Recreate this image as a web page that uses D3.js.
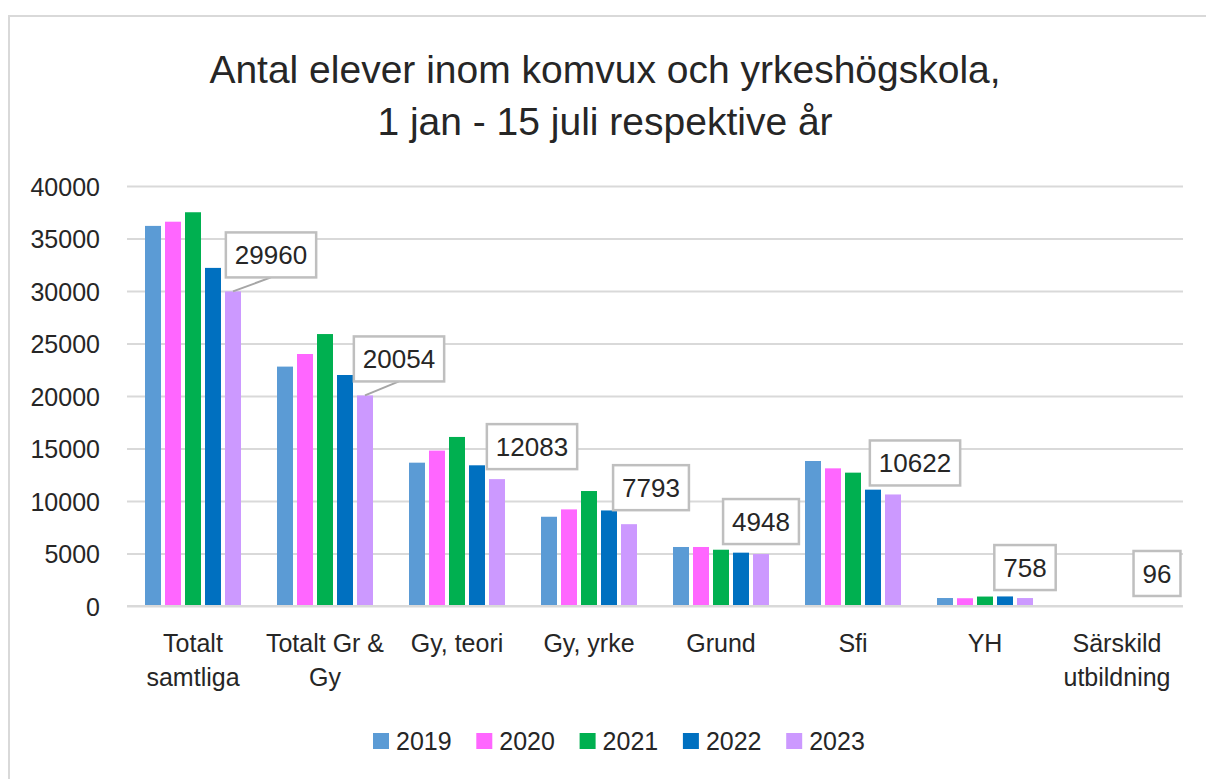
<!DOCTYPE html>
<html>
<head>
<meta charset="utf-8">
<script src="https://cdn.jsdelivr.net/npm/d3@7"></script>
<style>
  html, body { margin: 0; padding: 0; background: #ffffff; }
  svg { display: block; }
  text { font-family: "Liberation Sans", Arial, sans-serif; fill: #262626; }
</style>
</head>
<body>
<svg id="chart" width="1206" height="779"></svg>
<script>
// Elever per utbildningsform, 1 jan - 15 juli
const categories = [
  ["Totalt", "samtliga"],
  ["Totalt Gr &", "Gy"],
  ["Gy, teori"],
  ["Gy, yrke"],
  ["Grund"],
  ["Sfi"],
  ["YH"],
  ["Särskild", "utbildning"]
];
const years = ["2019", "2020", "2021", "2022", "2023"];
const values2019 = [36200, 22800, 13650, 8500, 5620, 13810, 760, 80];
const values2020 = [36600, 24000, 14800, 9200, 5620, 13110, 740, 75];
const values2021 = [37500, 25900, 16100, 10950, 5360, 12700, 900, 85];
const values2022 = [32200, 22000, 13400, 9100, 5080, 11080, 910, 90];
const values2023 = [29960, 20054, 12083, 7793, 4948, 10622, 758, 96];
const yTicks = [0, 5000, 10000, 15000, 20000, 25000, 30000, 35000, 40000];
const titleLines = ["Antal elever inom komvux och yrkeshögskola,", "1 jan - 15 juli respektive år"];

const series = [values2019, values2020, values2021, values2022, values2023];
const colors = ["#5b9bd5", "#ff66ff", "#00b050", "#0070c0", "#cc99ff"];

const svg = d3.select("#chart");

// outer chart frame
svg.append("rect")
  .attr("x", 9).attr("y", 16).attr("width", 1210).attr("height", 780)
  .attr("fill", "#ffffff").attr("stroke", "#d9d9d9").attr("stroke-width", 2);

// title
svg.append("g").selectAll("text").data(titleLines).join("text")
  .attr("x", 605).attr("y", (d, i) => 83 + i * 52)
  .attr("text-anchor", "middle")
  .attr("font-size", 39)
  .text(d => d);

const plot = { left: 127, right: 1183, top: 186, bottom: 606 };

const x0 = d3.scaleBand()
  .domain(d3.range(categories.length))
  .range([plot.left, plot.right]);

const x1 = d3.scaleBand()
  .domain(years)
  .range([18, x0.bandwidth() - 18])
  .paddingInner(0.2);

const y = d3.scaleLinear().domain([0, 40000]).range([plot.bottom, plot.top]);

// horizontal gridlines and value axis labels
const yAxis = d3.axisLeft(y).tickValues(yTicks).tickSize(-(plot.right - plot.left)).tickPadding(27).tickFormat(d3.format("d"));
const gy = svg.append("g").attr("transform", `translate(${plot.left},0)`).call(yAxis);
gy.select(".domain").remove();
gy.selectAll(".tick line").attr("stroke", "#d9d9d9").attr("stroke-width", 2);
gy.selectAll(".tick text").attr("font-size", 25).attr("fill", "#262626")
  .attr("font-family", "Liberation Sans, Arial, sans-serif").attr("dy", "0.36em");

// bars
const groups = svg.append("g").selectAll("g").data(categories).join("g")
  .attr("transform", (d, i) => `translate(${x0(i)},0)`);

groups.selectAll("rect")
  .data((d, i) => years.map((yr, k) => ({ yr, k, v: series[k][i] })))
  .join("rect")
  .attr("x", d => x1(d.yr))
  .attr("width", x1.bandwidth())
  .attr("y", d => y(d.v))
  .attr("height", d => y(0) - y(d.v))
  .attr("fill", d => colors[d.k]);

// category axis line, drawn over the bars
svg.append("line")
  .attr("x1", plot.left).attr("x2", plot.right)
  .attr("y1", y(0)).attr("y2", y(0))
  .attr("stroke", "#d9d9d9").attr("stroke-width", 2);

// category labels
const catG = svg.append("g");
categories.forEach((lines, i) => {
  const cx = x0(i) + x0.bandwidth() / 2;
  lines.forEach((ln, j) => {
    catG.append("text")
      .attr("x", cx).attr("y", 652 + j * 34)
      .attr("text-anchor", "middle")
      .attr("font-size", 25)
      .text(ln);
  });
});

// value callouts for 2023
const nudge = [
  { dx: 38, gap: 14, leader: true },
  { dx: 34, gap: 14, leader: true },
  { dx: 35, gap: 10, leader: false },
  { dx: 22, gap: 14, leader: false },
  { dx: 0, gap: 10, leader: false },
  { dx: 22, gap: 9, leader: false },
  { dx: 0, gap: 8, leader: false },
  { dx: 0, gap: 9, leader: false }
];
const callG = svg.append("g");
values2023.forEach((v, i) => {
  const bx = x0(i) + x1("2023") + x1.bandwidth() / 2;
  const by = y(v);
  const n = nudge[i];
  const t = callG.append("text")
    .attr("font-size", 26)
    .attr("text-anchor", "middle")
    .text(String(v));
  const w = t.node().getComputedTextLength() + 18;
  const h = 45;
  const cx = bx + n.dx;
  const bottom = by - n.gap;
  if (n.leader) {
    callG.insert("line", "text")
      .attr("x1", cx).attr("y1", bottom)
      .attr("x2", bx).attr("y2", by)
      .attr("stroke", "#a6a6a6").attr("stroke-width", 2);
  }
  callG.insert("rect", "text")
    .attr("x", cx - w / 2).attr("y", bottom - h)
    .attr("width", w).attr("height", h)
    .attr("fill", "#ffffff").attr("stroke", "#bfbfbf").attr("stroke-width", 2.5);
  t.attr("x", cx).attr("y", bottom - h / 2 + 9.5);
});

// legend
const legend = svg.append("g").selectAll("g").data(years).join("g")
  .attr("transform", (d, i) => `translate(${373 + i * 103.3},733)`);
legend.append("rect").attr("width", 16).attr("height", 16).attr("fill", (d, i) => colors[i]);
legend.append("text").attr("x", 23).attr("y", 17).attr("font-size", 25).text(d => d);
</script>
</body>
</html>
